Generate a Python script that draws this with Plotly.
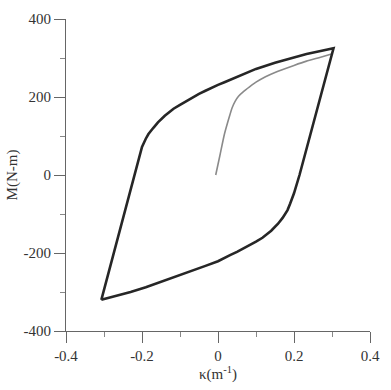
import plotly.graph_objects as go

# Hysteresis loop (stable cycle): upper branch then lower branch
loop_k = [-0.307, -0.215, -0.205, -0.200, -0.190, -0.183, -0.170, -0.158, -0.140, -0.117,
          -0.100, -0.075, -0.050, -0.033, -0.017, 0.000, 0.017, 0.040, 0.067, 0.100,
          0.150, 0.200, 0.233, 0.270, 0.304,
          0.2145, 0.205, 0.200, 0.190, 0.183, 0.170, 0.158, 0.140, 0.117, 0.100,
          0.075, 0.050, 0.033, 0.000, -0.033, -0.050, -0.067, -0.100, -0.150, -0.190,
          -0.230, -0.270, -0.307]
loop_m = [-320, 20, 55, 72, 93, 105, 121, 135, 152, 170,
          180, 195, 208, 216, 224, 231, 238, 248, 259, 272,
          288, 302, 310, 318, 325,
          0, -32, -47, -73, -90, -110, -125, -143, -161, -171,
          -185, -197, -205, -221, -233, -239, -245, -257, -275, -288,
          -300, -311, -320]

# Initial loading curve
init_k = [-0.006, 0.005, 0.017, 0.030, 0.037, 0.045, 0.054, 0.067, 0.083, 0.100,
          0.125, 0.150, 0.200, 0.233, 0.270, 0.301]
init_m = [0, 50, 105, 150, 172, 189, 202, 214, 226, 238,
          252, 263, 281, 292, 302, 311]

fig = go.Figure()
fig.add_trace(go.Scatter(x=init_k, y=init_m, mode="lines",
                         line=dict(color="#8a8a8a", width=1.6, shape="spline", smoothing=0.5),
                         showlegend=False))
fig.add_trace(go.Scatter(x=loop_k, y=loop_m, mode="lines",
                         line=dict(color="#262626", width=2.6),
                         showlegend=False))

font = dict(family="Liberation Serif, Times New Roman, serif", size=15, color="#333333")

fig.update_layout(
    width=391, height=390,
    margin=dict(l=60, r=11, t=11, b=59),
    paper_bgcolor="white", plot_bgcolor="white",
    font=font,
    xaxis=dict(range=[-0.4, 0.4], tickvals=[-0.4, -0.2, 0, 0.2, 0.4],
               ticktext=["-0.4", "-0.2", "0", "0.2", "0.4"],
               ticks="outside", ticklen=11, tickcolor="#666", tickwidth=1.2,
               minor=dict(dtick=0.1, tick0=0, ticks="outside", ticklen=5, tickcolor="#888"),
               showline=True, linecolor="#666", linewidth=1.2,
               showgrid=False, zeroline=False,
               title=dict(text="κ(m<sup>-1</sup>)", standoff=3, font=font)),
    yaxis=dict(range=[-400, 400], tickvals=[-400, -200, 0, 200, 400],
               ticktext=["-400", "-200", "0", "200", "400"],
               ticks="outside", ticklen=11, tickcolor="#666", tickwidth=1.2,
               minor=dict(dtick=100, tick0=0, ticks="outside", ticklen=5, tickcolor="#888"),
               showline=True, linecolor="#666", linewidth=1.2,
               showgrid=False, zeroline=False,
               title=dict(text="M(N-m)", standoff=2, font=font)),
)

fig.write_html("out.html")
